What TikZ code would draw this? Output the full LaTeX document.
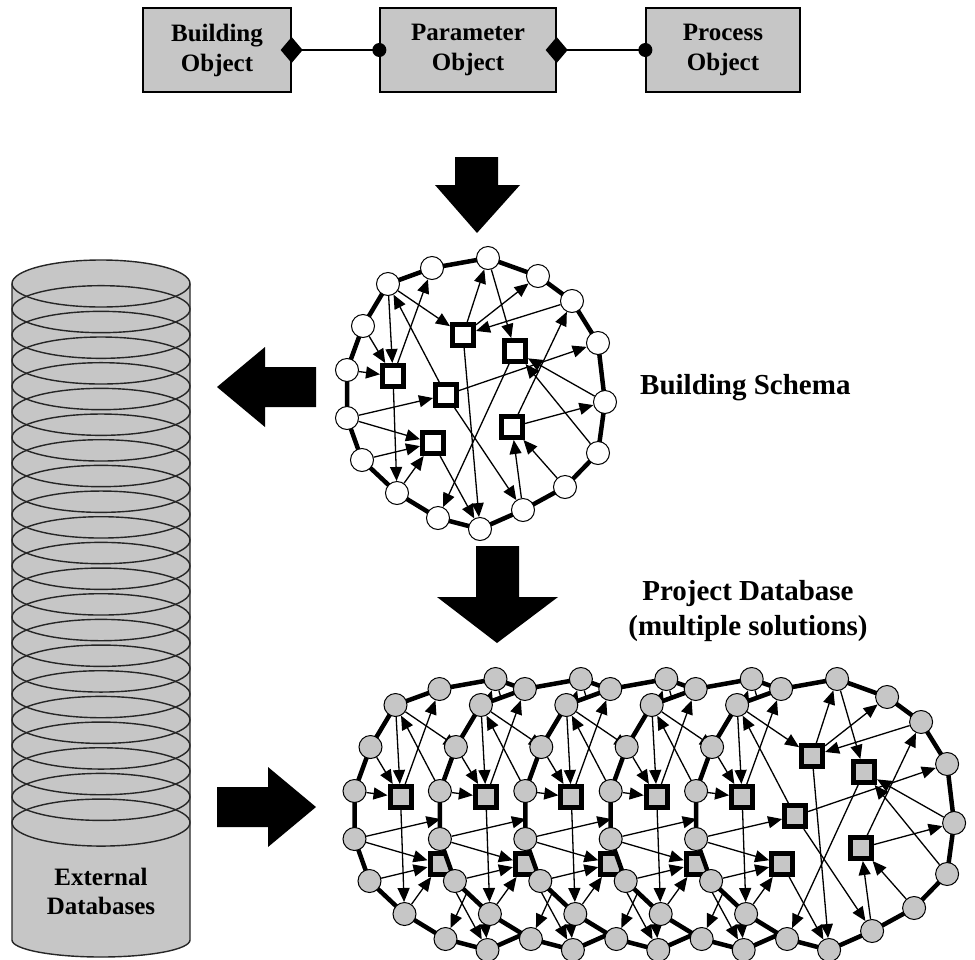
\documentclass[tikz,border=0pt]{standalone}
\usepackage{fontspec}
\setmainfont{Liberation Serif}
\usetikzlibrary{arrows.meta}

\definecolor{panelgray}{RGB}{198,198,198}

\tikzset{
  objbox/.style={draw, line width=1.3pt, fill=panelgray, minimum height=84pt,
    inner sep=0pt, align=center, font=\fontsize{25}{30}\selectfont\bfseries},
  assoc/.style={line width=1.3pt,
    {Diamond[length=22pt,width=26pt]}-{Circle[length=14pt]},
    shorten <=-11pt, shorten >=-7pt},
  blockarrow/.style={fill=black},
  rim/.style={fill=white, draw=black, line width=4.5pt, line join=round},
  port/.style={circle, draw=black, line width=1pt, minimum size=23pt, inner sep=0pt},
  unit/.style={rectangle, draw=black, line width=5pt, minimum size=21pt, inner sep=0pt},
  link/.style={line width=1.3pt, -{Triangle[length=14pt,width=12pt]}},
  cylline/.style={draw=black!85, line width=1.4pt},
  caption/.style={font=\fontsize{29}{35}\selectfont\bfseries, align=center, inner sep=0pt},
  dbcaption/.style={font=\fontsize{25}{29}\selectfont\bfseries, align=center, inner sep=0pt}
}

% One copy of the schema network: #1 name prefix, #2/#3 offset, #4 node fill
\newcommand\schemacopy[4]{%
  \begin{scope}[shift={(#2,#3)}]
    \foreach \n/\px/\py in {1/488/258,2/432/268,3/388/284,4/363/326,5/347/370,
        6/347/418,7/362/460,8/397/493,9/438/518,10/480/529,11/523/510,
        12/565/487,13/598/453,14/605/402,15/598/343,16/572/301,17/538/276}
      {\coordinate (#1k\n) at (\px,\py);}
    % white body with thick boundary through the port centres
    \path[rim] (#1k1) \foreach \n in {2,...,17}{ -- (#1k\n)} -- cycle;
    % ports on the boundary
    \foreach \n in {1,...,17}
      {\node[port, fill=#4] (#1c\n) at (#1k\n) {};}
    % inner units
    \node[unit, fill=#4] (#1qA) at (463,335) {};
    \node[unit, fill=#4] (#1qB) at (515,351) {};
    \node[unit, fill=#4] (#1qC) at (393,376) {};
    \node[unit, fill=#4] (#1qD) at (446,395) {};
    \node[unit, fill=#4] (#1qE) at (433,443) {};
    \node[unit, fill=#4] (#1qF) at (512,427) {};
    % directed relations
    \foreach \src/\dst in {c3/qC, c4/qC, c5/qC, qC/c2, qD/c3, c3/qA, qA/c1,
        qA/c17, c16/qA, c1/qB, qF/c16, qD/c15, c14/qB, c13/qB, qF/c14,
        c12/qF, c11/qF, qD/c11, qA/c10, qE/c10, qB/c9, qC/c8, c8/qE,
        c6/qE, c7/qE, c6/qD}
      {\draw[link] (#1\src) -- (#1\dst);}
  \end{scope}}

\begin{document}
\begin{tikzpicture}[x=1pt,y=-1pt]
\path[use as bounding box] (0,0) rectangle (975,959);

% object classes
\node[objbox, minimum width=148pt] (bo) at (217,50) {Building\\Object};
\node[objbox, minimum width=176pt] (po) at (468,50) {Parameter\\Object};
\node[objbox, minimum width=154pt] (pr) at (723,50) {Process\\Object};
\draw[assoc] (bo.east) -- (po.west);
\draw[assoc] (po.east) -- (pr.west);

% block arrows
\fill[blockarrow] (455,157) -- (498,157) -- (498,185) -- (520,185) -- (477,233)
  -- (435,185) -- (455,185) -- cycle;
\fill[blockarrow] (316,367) -- (265,367) -- (265,347) -- (217,387) -- (265,427)
  -- (265,407) -- (316,407) -- cycle;
\fill[blockarrow] (476,546) -- (519,546) -- (519,597) -- (558,597) -- (497,643)
  -- (437,597) -- (476,597) -- cycle;
\fill[blockarrow] (217,787) -- (268,787) -- (268,767) -- (316,807) -- (268,847)
  -- (268,827) -- (217,827) -- cycle;

% external databases cylinder
\fill[panelgray] (12,283.5) -- (12,940) arc[start angle=180, end angle=0,
  x radius=89, y radius=17] -- (190,283.5) arc[start angle=0, end angle=-180,
  x radius=89, y radius=23.5] -- cycle;
\draw[cylline] (12,283.5) -- (12,940) arc[start angle=180, end angle=0,
  x radius=89, y radius=17] -- (190,283.5);
\foreach \i in {0,...,21}
  {\draw[cylline] (101,{283.5+25.67*\i}) ellipse [x radius=89, y radius=23.5];}
\node[dbcaption] (extdb) at (101,891) {External\\Databases};

% building schema
\schemacopy{s}{0}{0}{white}
\node[caption, anchor=west] (bschema) at (640,388) {Building Schema};

% project database: stacked solutions
\foreach \k in {0,...,4}
  {\pgfmathsetmacro\dx{7.5+85.4*\k}\schemacopy{p\k}{\dx}{421}{panelgray}}
\node[caption] (pdb) at (748,611) {Project Database\\(multiple solutions)};
\end{tikzpicture}
\end{document}
